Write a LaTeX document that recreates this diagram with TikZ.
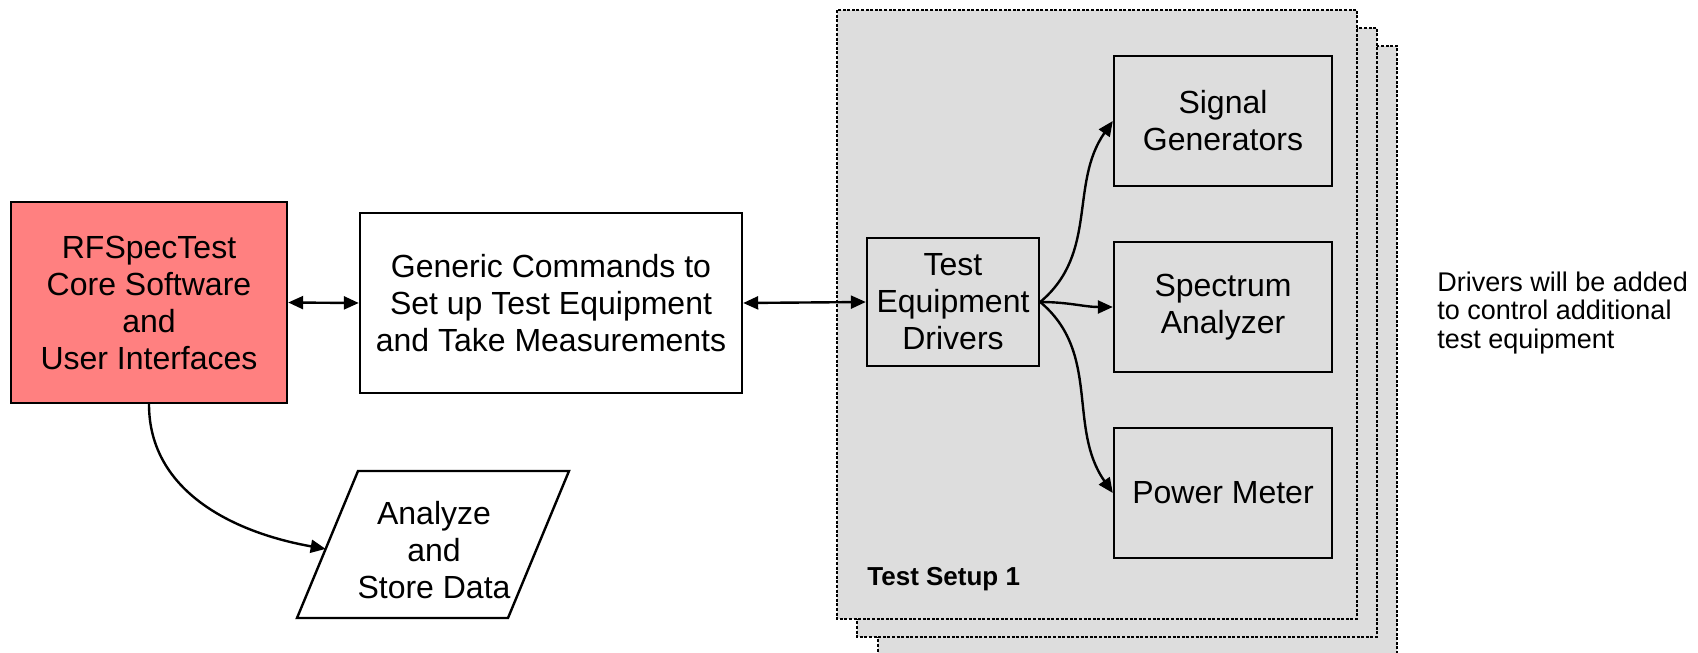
\documentclass[tikz,border=0pt]{standalone}
\usepackage{fontspec}
\setmainfont{Liberation Sans}
\usetikzlibrary{arrows.meta,calc}
\definecolor{redfill}{RGB}{255,128,128}
\definecolor{setupgray}{RGB}{221,221,221}
\begin{document}
\begin{tikzpicture}[x=0.5pt,y=-0.5pt,
  box/.style={draw,line width=1.2pt,inner sep=1pt,align=center,font=\fontsize{16}{18.5}\selectfont},
  conn/.style={line width=1.2pt,-{Triangle[length=7.5pt,width=6.5pt]}},
  dconn/.style={line width=1.2pt,{Triangle[length=7.5pt,width=6.5pt]}-{Triangle[length=7.5pt,width=6.5pt]}},
  setup/.style={fill=setupgray,draw,line width=1pt,dash pattern=on 1.5pt off 0.8pt}]
\useasboundingbox (0,0) rectangle (1698,653);
% stacked test setups
\draw[setup] (878,46) rectangle (1397,700);
\draw[setup] (857,28) rectangle (1377,637);
\draw[setup] (837,10) rectangle (1357,619);
% nodes
\node[box,fill=redfill,minimum width=138pt,minimum height=100.5pt] (core) at (149,302.5) {RFSpecTest\\Core Software\\and\\User Interfaces};
\node[box,minimum width=191pt,minimum height=90pt] (gen) at (551,303) {Generic Commands to\\Set up Test Equipment\\and Take Measurements};
\node[box,minimum width=86pt,minimum height=64pt] (ted) at (953,302) {Test\\Equipment\\Drivers};
\node[box,minimum width=109pt,minimum height=65pt] (sig) at (1223,121) {Signal\\Generators};
\node[box,minimum width=109pt,minimum height=65pt] (spec) at (1223,307) {Spectrum\\Analyzer};
\node[box,minimum width=109pt,minimum height=65pt] (pow) at (1223,493) {Power Meter};
\node[anchor=west,inner sep=0,font=\bfseries\fontsize{13}{15}\selectfont] (setuplabel) at (867,579) {Test Setup 1};
\node[anchor=west,align=left,inner sep=0,font=\fontsize{13.5}{14.25}\selectfont] (note) at (1437,313) {Drivers will be added\\to control additional\\test equipment};
% parallelogram
\coordinate (ptl) at (358,471);
\coordinate (ptr) at (569,471);
\coordinate (pbr) at (508,618);
\coordinate (pbl) at (297,618);
\draw[line width=1.2pt] (ptl) -- (ptr) -- (pbr) -- (pbl) -- cycle;
\node[align=center,inner sep=0,font=\fontsize{16}{18.5}\selectfont] (ana) at (434,550) {Analyze\\and\\Store Data};
\coordinate (anain) at ($(ptl)!0.53!(pbl)$);
% connectors
\draw[dconn] (core.east) -- (gen.west);
\draw[dconn] (gen.east) -- (ted.west);
\draw[conn] (core.south) to[out=-90,in=170] (anain);
\draw[conn] (ted.east) to[out=40,in=235] (sig.west);
\draw[conn] (ted.east) to[out=0,in=180] (spec.west);
\draw[conn] (ted.east) to[out=-40,in=125] (pow.west);
\end{tikzpicture}
\end{document}
